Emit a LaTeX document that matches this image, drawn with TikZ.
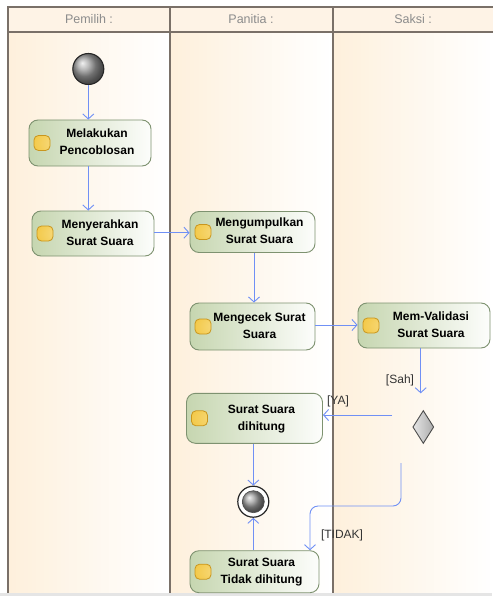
\documentclass[tikz,border=0pt]{standalone}
\usepackage{fontspec}
\setmainfont{Liberation Sans}
\usetikzlibrary{arrows.meta,shapes.geometric}

\definecolor{laneorange}{HTML}{FEF0DC}
\definecolor{headfill}{HTML}{FEF3E6}
\definecolor{frameline}{HTML}{7A7068}
\definecolor{flow}{HTML}{7090F5}
\definecolor{actgreen}{HTML}{C6D6B0}
\definecolor{actborder}{HTML}{7E9270}
\definecolor{iconlight}{HTML}{FFF8D8}
\definecolor{iconyellow}{HTML}{F2C640}
\definecolor{iconborder}{HTML}{C9961E}
\definecolor{headtext}{HTML}{8C8C8C}
\definecolor{guardtext}{HTML}{333333}

% two-line action caption, nudged right to clear the icon
\newcommand\acttext[2]{\hspace*{14pt}\begin{tabular}{@{}c@{}}#1\\#2\end{tabular}}

\begin{document}
\begin{tikzpicture}[x=1pt,y=-1pt,
  headrow/.style={fill=headfill,draw=none},
  frame/.style={draw=frameline,line width=1.2pt},
  headlabel/.style={font=\fontsize{12.5}{14}\selectfont,text=headtext},
  action/.style={rectangle,rounded corners=9pt,draw=actborder,line width=0.9pt,
    left color=actgreen,right color=white!96!actgreen,inner sep=0pt,
    font=\bfseries\fontsize{12}{17}\selectfont,
    path picture={\draw[rounded corners=4.5pt,draw=iconborder,line width=0.8pt,
      inner color=iconlight,outer color=iconyellow]
      ([xshift=5pt,yshift=-7.5pt]path picture bounding box.west) rectangle ++(16pt,15pt);}},
  startnode/.style={circle,draw=black!85,line width=1.1pt,inner sep=0pt,
    minimum size=31pt,shading=ball,ball color=gray!75},
  endring/.style={circle,draw=black!85,line width=1.2pt,fill=white,inner sep=0pt,minimum size=31pt},
  endball/.style={circle,draw=black!70,line width=0.6pt,inner sep=0pt,
    minimum size=22pt,shading=ball,ball color=gray!75},
  decision/.style={diamond,draw=black!70,line width=0.9pt,inner sep=0pt,
    minimum width=21pt,minimum height=33pt,left color=gray!20,right color=gray!65},
  flowline/.style={draw=flow,line width=0.9pt,-{Straight Barb[length=5pt,width=11pt]}},
  guard/.style={font=\fontsize{12}{14}\selectfont,text=guardtext}]

\useasboundingbox (0,0) rectangle (492,596);

% swimlane backgrounds: orange fading to white across each lane
\foreach \xa/\xb in {8/170,170/333,333/494}{
  \foreach \k in {0,...,39}{
    \pgfmathsetmacro\p{100-100*\k/39}
    \fill[laneorange!\p!white] ({\xa+(\xb-\xa)*\k/40},32) rectangle ({\xa+(\xb-\xa)*(\k+1)/40+0.6},593);
  }
}
\fill[headrow] (8,7) rectangle (494,32);
\fill[gray!20] (0,593) rectangle (492,596);

% swimlane frame
\draw[frame] (494,7) -- (8,7) -- (8,593);
\draw[frame] (8,32) -- (494,32);
\draw[frame] (170,7) -- (170,593);
\draw[frame] (333,7) -- (333,593);

\node[headlabel] (h1) at (89,19.5) {Pemilih :};
\node[headlabel] (h2) at (251,19.5) {Panitia :};
\node[headlabel] (h3) at (413,19.5) {Saksi :};

% activity nodes
\node[startnode] (start) at (88.3,69) {};
\node[action,minimum width=122pt,minimum height=46pt] (m1) at (90,143) {\acttext{Melakukan}{Pencoblosan}};
\node[action,minimum width=122pt,minimum height=45pt] (m2) at (93,233.5) {\acttext{Menyerahkan}{Surat Suara}};
\node[action,minimum width=125pt,minimum height=41pt] (p1) at (252.5,232) {\acttext{Mengumpulkan}{Surat Suara}};
\node[action,minimum width=125pt,minimum height=47pt] (p2) at (252.5,326.5) {\acttext{Mengecek Surat}{Suara}};
\node[action,minimum width=132pt,minimum height=45pt] (s1) at (424,325.5) {\acttext{Mem-Validasi}{Surat Suara}};
\node[decision] (dec) at (423.3,427) {};
\node[action,minimum width=136pt,minimum height=50pt] (p3) at (254.5,418.3) {\acttext{Surat Suara}{dihitung}};
\node[endring] (final) at (253.3,501.7) {};
\node[endball] (finalball) at (final) {};
\node[action,minimum width=129pt,minimum height=42pt] (p4) at (254.5,571.7) {\acttext{Surat Suara}{Tidak dihitung}};

% free ends of the guarded flows
\coordinate (sahend) at (420.7,393.3);
\coordinate (yafrom) at (392,415);
\coordinate (tidakfrom) at (401,463);
\coordinate (tidakbend) at (310,506);

% control flows
\draw[flowline] (start.south) -- (start |- m1.north);
\draw[flowline] (m1.south -| start) -- (m2.north -| start);
\draw[flowline] (m2.east |- 0,232.7) -- (p1.west |- 0,232.7);
\draw[flowline] (p1.south -| 254,0) -- (p2.north -| 254,0);
\draw[flowline] (p2.east |- 0,325) -- (s1.west |- 0,325);
\draw[flowline] (s1.south -| sahend) -- (sahend);
\draw[flowline] (yafrom) -- (yafrom -| p3.east);
\draw[flowline,rounded corners=8pt] (tidakfrom) |- (tidakbend) -- (tidakbend |- p4.north);
\draw[flowline] (p3.south -| final) -- (final.north);
\draw[flowline] (p4.north -| final) -- (final.south);

% guard labels
\node[guard] (gsah) at (400,380) {[Sah]};
\node[guard] (gya) at (338,401) {[YA]};
\node[guard] (gtidak) at (342,535) {[TIDAK]};
\end{tikzpicture}
\end{document}
